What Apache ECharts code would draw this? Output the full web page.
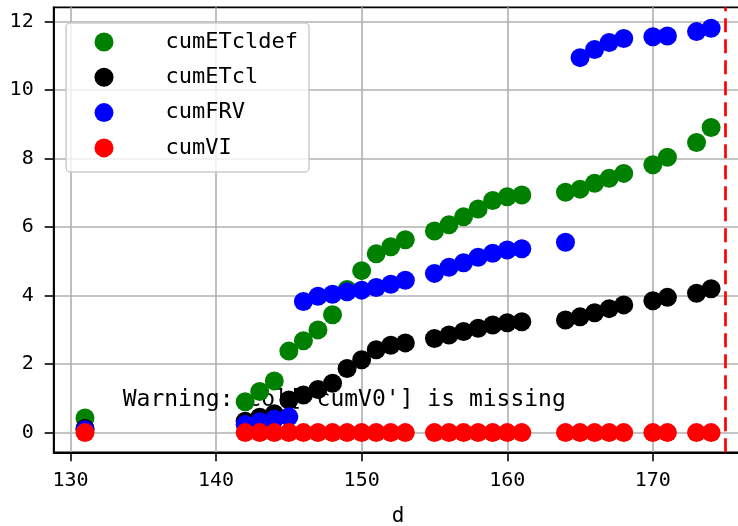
<!DOCTYPE html>
<html>
<head>
<meta charset="utf-8">
<script src="https://cdn.jsdelivr.net/npm/echarts@6/dist/echarts.min.js"></script>
<style>
html,body{margin:0;padding:0;background:#fff;}
#main{width:738px;height:526px;}
</style>
</head>
<body>
<div id="main"></div>
<script>
// ---- data ----
const days = [131,142,143,144,145,146,147,148,149,150,151,152,153,155,156,157,158,159,160,161,164,165,166,167,168,170,171,173,174];
const cumETcldef = [0.43,0.90,1.20,1.51,2.38,2.68,3.00,3.44,4.18,4.73,5.22,5.43,5.63,5.89,6.07,6.30,6.53,6.78,6.89,6.94,7.02,7.11,7.28,7.43,7.57,7.82,8.04,8.47,8.91];
const cumETcl    = [0.12,0.33,0.45,0.55,0.95,1.10,1.26,1.44,1.87,2.13,2.42,2.55,2.62,2.75,2.85,2.95,3.05,3.14,3.21,3.24,3.29,3.38,3.50,3.62,3.73,3.85,3.95,4.07,4.20];
const cumFRV     = [0.08,0.24,0.32,0.39,0.46,3.83,3.98,4.04,4.11,4.16,4.24,4.33,4.45,4.65,4.83,4.96,5.12,5.24,5.33,5.37,5.56,10.95,11.19,11.39,11.51,11.56,11.58,11.71,11.81];
const cumVI      = [0,0,0,0,0,0,0,0,0,0,0,0,0,0,0,0,0,0,0,0,0,0,0,0,0,0,0,0,0];
const seriesNames = ['cumETcldef','cumETcl','cumFRV','cumVI'];
const seriesColors = ['#008000','#000000','#0000ff','#ff0000'];
const xTicks = [130,140,150,160,170];
const yTicks = [0,2,4,6,8,10,12];
const vlineX = 175;
const xLabel = 'd';
const warningText = "Warning: col['cumV0'] is missing";

const pairs = a => days.map((d,i)=>[d,a[i]]);
const allSeries = [cumETcldef,cumETcl,cumFRV,cumVI];

const MONO = "'DejaVu Sans Mono', monospace";
const chart = echarts.init(document.getElementById('main'), null, {renderer:'canvas'});
const option = {
  animation:false,
  backgroundColor:'#ffffff',
  grid:{left:53.7, top:7.3, width:688.7, height:445, show:true, borderColor:'#000', borderWidth:1.8, backgroundColor:'transparent', containLabel:false, outerBoundsMode:'none'},
  xAxis:{
    type:'value', min:128.85, max:176.15,
    name:xLabel, nameLocation:'middle', nameGap:54,
    nameTextStyle:{fontFamily:MONO, fontSize:21, color:'#000'},
    axisLine:{show:true, onZero:false, lineStyle:{color:'#000', width:1.8}},
    axisTick:{show:true, length:9, lineStyle:{color:'#000', width:1.6}, customValues:xTicks},
    axisLabel:{show:true, margin:18, fontFamily:MONO, fontSize:20, color:'#000', customValues:xTicks},
    splitLine:{show:true, lineStyle:{color:'#b0b0b0', width:1.6}}
  },
  yAxis:{
    type:'value', min:-0.575, max:12.42,
    axisLine:{show:true, onZero:false, lineStyle:{color:'#000', width:1.8}},
    axisTick:{show:true, length:9, lineStyle:{color:'#000', width:1.6}, customValues:yTicks},
    axisLabel:{show:true, margin:20, fontFamily:MONO, fontSize:20, color:'#000', customValues:yTicks},
    splitLine:{show:true, lineStyle:{color:'#b0b0b0', width:1.6}}
  },
  legend:{
    orient:'vertical', left:66, top:23,
    padding:[8,11,13,28.5],
    itemWidth:19, itemHeight:19, itemGap:13.3,
    icon:'circle',
    backgroundColor:'rgba(255,255,255,0.8)', borderColor:'#cccccc', borderWidth:1.5, borderRadius:4,
    textStyle:{fontFamily:MONO, fontSize:22, lineHeight:22, color:'#000', padding:[0,0,0,47]},
    data:seriesNames
  },
  graphic:[{
    type:'text', left:122.7, top:389, z:1,
    style:{text:warningText, fontFamily:MONO, fontSize:23, fill:'#000'}
  }],
  series: seriesNames.map((n,i)=>{
    const s = {
      type:'scatter', name:n, data:pairs(allSeries[i]),
      symbol:'circle', symbolSize:19,
      itemStyle:{color:seriesColors[i], opacity:1},
      emphasis:{disabled:true}, silent:true
    };
    if(i===seriesNames.length-1){
      s.markLine = {
        silent:true, symbol:['none','none'], animation:false,
        label:{show:false},
        lineStyle:{color:'#ff0000', type:[14,7], width:2.7},
        emphasis:{disabled:true},
        data:[{xAxis:vlineX}]
      };
    }
    return s;
  })
};
chart.setOption(option);
</script>
</body>
</html>
